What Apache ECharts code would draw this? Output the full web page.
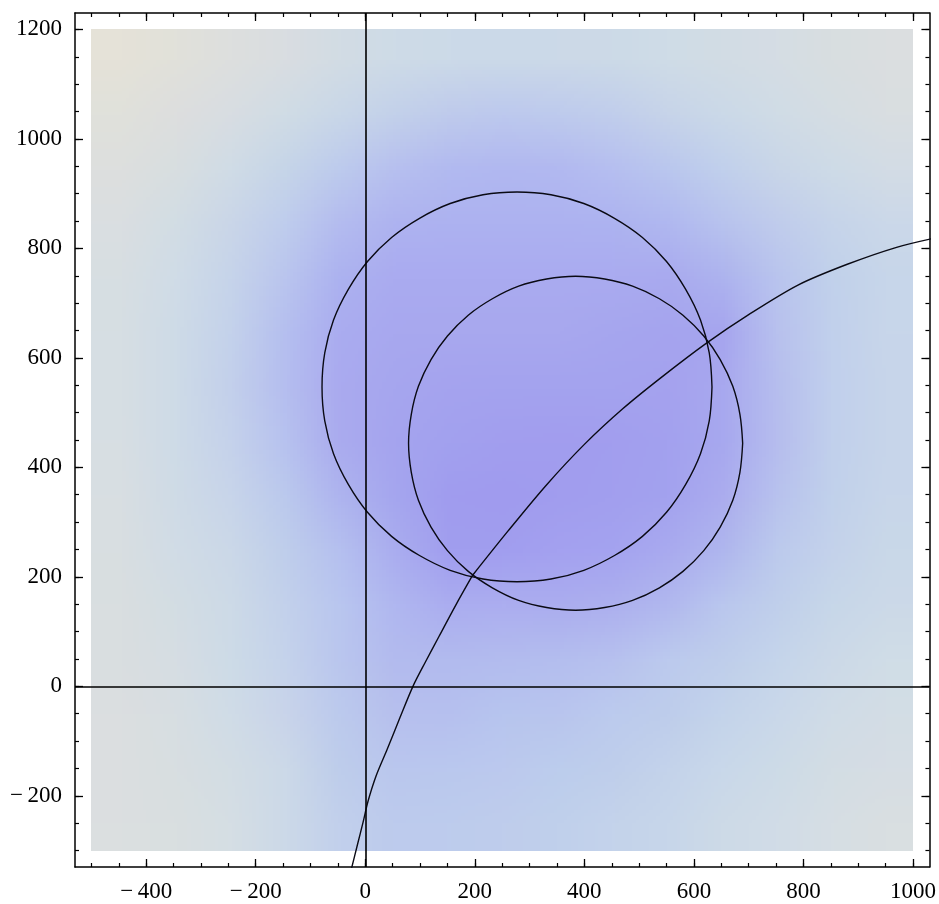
<!DOCTYPE html>
<html>
<head>
<meta charset="utf-8">
<script src="https://cdn.jsdelivr.net/npm/echarts@6/dist/echarts.min.js"></script>
<style>
  html, body { margin: 0; padding: 0; background: #ffffff; }
  #chart { width: 939px; height: 904px; }
</style>
</head>
<body>
<div id="chart"></div>
<script>
// ---- density field: cell centres (100-unit cells) and shade values (0 = deep purple, 1 = beige)
const cellX = [-450, -350, -250, -150, -50, 50, 150, 250, 350, 450, 550, 650, 750, 850, 950];
const cellY = [1150, 1050, 950, 850, 750, 650, 550, 450, 350, 250, 150, 50, -50, -150, -250];
const shade = [
  [0.98, 0.96, 0.93, 0.90, 0.84, 0.80, 0.78, 0.77, 0.77, 0.79, 0.80, 0.82, 0.84, 0.86, 0.88],
  [0.95, 0.92, 0.88, 0.83, 0.77, 0.72, 0.68, 0.66, 0.66, 0.69, 0.73, 0.77, 0.80, 0.84, 0.87],
  [0.92, 0.88, 0.83, 0.74, 0.64, 0.54, 0.46, 0.42, 0.44, 0.50, 0.58, 0.66, 0.73, 0.78, 0.83],
  [0.88, 0.84, 0.76, 0.66, 0.52, 0.40, 0.40, 0.40, 0.40, 0.40, 0.44, 0.55, 0.64, 0.70, 0.76],
  [0.86, 0.80, 0.72, 0.60, 0.40, 0.35, 0.35, 0.35, 0.35, 0.35, 0.34, 0.40, 0.52, 0.62, 0.70],
  [0.85, 0.78, 0.70, 0.52, 0.34, 0.31, 0.31, 0.31, 0.31, 0.30, 0.29, 0.24, 0.48, 0.63, 0.71],
  [0.85, 0.78, 0.68, 0.52, 0.32, 0.29, 0.28, 0.28, 0.28, 0.28, 0.28, 0.27, 0.46, 0.62, 0.70],
  [0.85, 0.78, 0.70, 0.54, 0.32, 0.28, 0.27, 0.26, 0.26, 0.26, 0.27, 0.27, 0.44, 0.62, 0.70],
  [0.86, 0.79, 0.72, 0.58, 0.38, 0.28, 0.26, 0.25, 0.25, 0.25, 0.26, 0.29, 0.46, 0.62, 0.70],
  [0.86, 0.80, 0.74, 0.64, 0.50, 0.34, 0.22, 0.23, 0.25, 0.26, 0.28, 0.33, 0.52, 0.64, 0.72],
  [0.87, 0.82, 0.76, 0.68, 0.56, 0.44, 0.30, 0.31, 0.30, 0.30, 0.35, 0.48, 0.60, 0.68, 0.74],
  [0.87, 0.84, 0.78, 0.70, 0.56, 0.44, 0.42, 0.44, 0.44, 0.47, 0.53, 0.60, 0.67, 0.73, 0.78],
  [0.88, 0.85, 0.80, 0.72, 0.58, 0.47, 0.47, 0.49, 0.51, 0.54, 0.59, 0.65, 0.70, 0.76, 0.80],
  [0.88, 0.86, 0.82, 0.75, 0.62, 0.52, 0.53, 0.55, 0.57, 0.60, 0.64, 0.70, 0.74, 0.79, 0.83],
  [0.89, 0.87, 0.84, 0.78, 0.66, 0.58, 0.58, 0.60, 0.62, 0.65, 0.69, 0.74, 0.78, 0.82, 0.86]
];
const shadeColors = ['#6a48cf', '#8068dc', '#9b94ec', '#a8a8f0', '#b0b6f0', '#b7c3ef',
                     '#becdec', '#c7d6ea', '#d2dde6', '#dde0de', '#e9e3d4'];

// ---- contour curves
const ringAx = [633, 628, 612, 585, 550, 506, 455, 399, 339, 277, 215, 155, 99, 48, 4, -31, -58, -74,
                -79, -74, -58, -31, 4, 48, 99, 155, 215, 277, 339, 399, 455, 506, 550, 585, 612, 628, 633];
const ringAy = [547, 609, 669, 725, 776, 820, 855, 882, 898, 903, 898, 882, 855, 820, 776, 725, 669, 609,
                547, 485, 425, 369, 318, 274, 239, 212, 196, 191, 196, 212, 239, 274, 318, 369, 425, 485, 547];
const ringBx = [689, 684, 671, 648, 618, 580, 537, 488, 437, 384, 331, 280, 232, 188, 150, 120, 97, 84,
                79, 84, 97, 120, 150, 188, 232, 280, 331, 384, 437, 488, 537, 580, 618, 648, 671, 684, 689];
const ringBy = [444, 497, 548, 597, 640, 678, 708, 731, 744, 749, 744, 731, 708, 678, 640, 597, 548, 497,
                444, 391, 340, 291, 248, 210, 180, 157, 144, 139, 144, 157, 180, 210, 248, 291, 340, 391, 444];
// lower arm (up to the lower crossing) and upper arm of the branch curve
const branchLowX = [-27, -14, -4, 5, 20, 40, 63, 87, 110, 135, 165, 196];
const branchLowY = [-340, -288, -248, -210, -163, -115, -58, 0, 45, 92, 148, 203];
const branchUpX = [196, 260, 330, 400, 470, 540, 623, 700, 790, 880, 970, 1040];
const branchUpY = [203, 283, 367, 442, 507, 564, 627, 679, 733, 771, 802, 819];

// ---- axis ticks
const ticksX = [-400, -200, 0, 200, 400, 600, 800, 1000];
const ticksY = [-200, 0, 200, 400, 600, 800, 1000, 1200];
const minorX = [];
for (let v = -500; v <= 1000; v += 50) minorX.push(v);
const minorY = [];
for (let v = -300; v <= 1200; v += 50) minorY.push(v);

const X_RANGE = [-530, 1030];
const Y_RANGE = [-330, 1230];
const FIELD_X = [-500, 1000];
const FIELD_Y = [-300, 1200];

// ---- render the density cells one pixel each, to be stretched over the field
const cellDiv = document.createElement('div');
cellDiv.style.cssText = 'position:absolute;left:-5000px;top:0;width:' + cellX.length + 'px;height:' + cellY.length + 'px';
document.body.appendChild(cellDiv);
const cellChart = echarts.init(cellDiv, null, { renderer: 'canvas', devicePixelRatio: 1 });
const cells = [];
shade.forEach((row, r) => row.forEach((v, c) => cells.push([c, cellY.length - 1 - r, v])));
cellChart.setOption({
  animation: false,
  grid: { left: 0, right: 0, top: 0, bottom: 0 },
  xAxis: { type: 'category', data: cellX, show: false },
  yAxis: { type: 'category', data: cellY.slice().reverse(), show: false },
  visualMap: { show: false, min: 0, max: 1, dimension: 2, inRange: { color: shadeColors } },
  series: [{ type: 'heatmap', data: cells, itemStyle: { borderWidth: 0 }, emphasis: { disabled: true } }]
});
const fieldImage = cellChart.getDataURL({ type: 'png', pixelRatio: 1 });

// ---- main chart
const FONT = 'Liberation Serif';
const fmt = v => (v < 0 ? '\u2212\u2009' + Math.abs(v) : String(v));

function makeAxis(pos, range, major, minor, labelled) {
  const base = { type: 'value', position: pos, min: range[0], max: range[1], splitLine: { show: false } };
  return [
    Object.assign({}, base, {
      axisLine: { show: true, onZero: false, lineStyle: { color: '#000', width: 1.5 } },
      axisTick: { show: true, inside: true, length: 8, customValues: major, lineStyle: { color: '#000', width: 1.3 } },
      axisLabel: labelled
        ? { show: true, customValues: major, formatter: fmt, color: '#000', fontFamily: FONT, fontSize: 23, margin: 13 }
        : { show: false }
    }),
    Object.assign({}, base, {
      axisLine: { show: false, onZero: false },
      axisTick: { show: true, inside: true, length: 4, customValues: minor, lineStyle: { color: '#000', width: 1.2 } },
      axisLabel: { show: false }
    })
  ];
}

const chart = echarts.init(document.getElementById('chart'), null, { renderer: 'canvas' });
const zip = (xs, ys) => xs.map((x, i) => [x, ys[i]]);
const curveStyle = { color: '#0a0a14', width: 1.4 };
const curve = (name, xs, ys, smooth) => ({
  type: 'line', name, data: zip(xs, ys), showSymbol: false, silent: true,
  smooth, lineStyle: curveStyle, z: 3
});

const branchLow = curve('branchLow', branchLowX, branchLowY, 0.3);
branchLow.markLine = {
  symbol: 'none', silent: true, label: { show: false },
  lineStyle: { color: '#000', width: 1.6, type: 'solid' },
  data: [{ xAxis: 0 }, { yAxis: 0 }]
};

chart.setOption({
  animation: false,
  backgroundColor: '#ffffff',
  grid: { left: 75, right: 9, top: 13, bottom: 37 },
  xAxis: [].concat(
    makeAxis('bottom', X_RANGE, ticksX, minorX, true),
    makeAxis('top', X_RANGE, ticksX, minorX, false)
  ),
  yAxis: [].concat(
    makeAxis('left', Y_RANGE, ticksY, minorY, true),
    makeAxis('right', Y_RANGE, ticksY, minorY, false)
  ),
  series: [
    curve('ringA', ringAx, ringAy, 0.35),
    curve('ringB', ringBx, ringBy, 0.35),
    branchLow,
    curve('branchUp', branchUpX, branchUpY, 0.3)
  ]
});

// stretch the density cells over the field rectangle
const topLeft = chart.convertToPixel({ seriesIndex: 0 }, [FIELD_X[0], FIELD_Y[1]]);
const bottomRight = chart.convertToPixel({ seriesIndex: 0 }, [FIELD_X[1], FIELD_Y[0]]);
chart.setOption({
  graphic: [{
    type: 'image', silent: true, z: 0,
    style: {
      image: fieldImage,
      x: topLeft[0], y: topLeft[1],
      width: bottomRight[0] - topLeft[0], height: bottomRight[1] - topLeft[1]
    }
  }]
});
</script>
</body>
</html>
